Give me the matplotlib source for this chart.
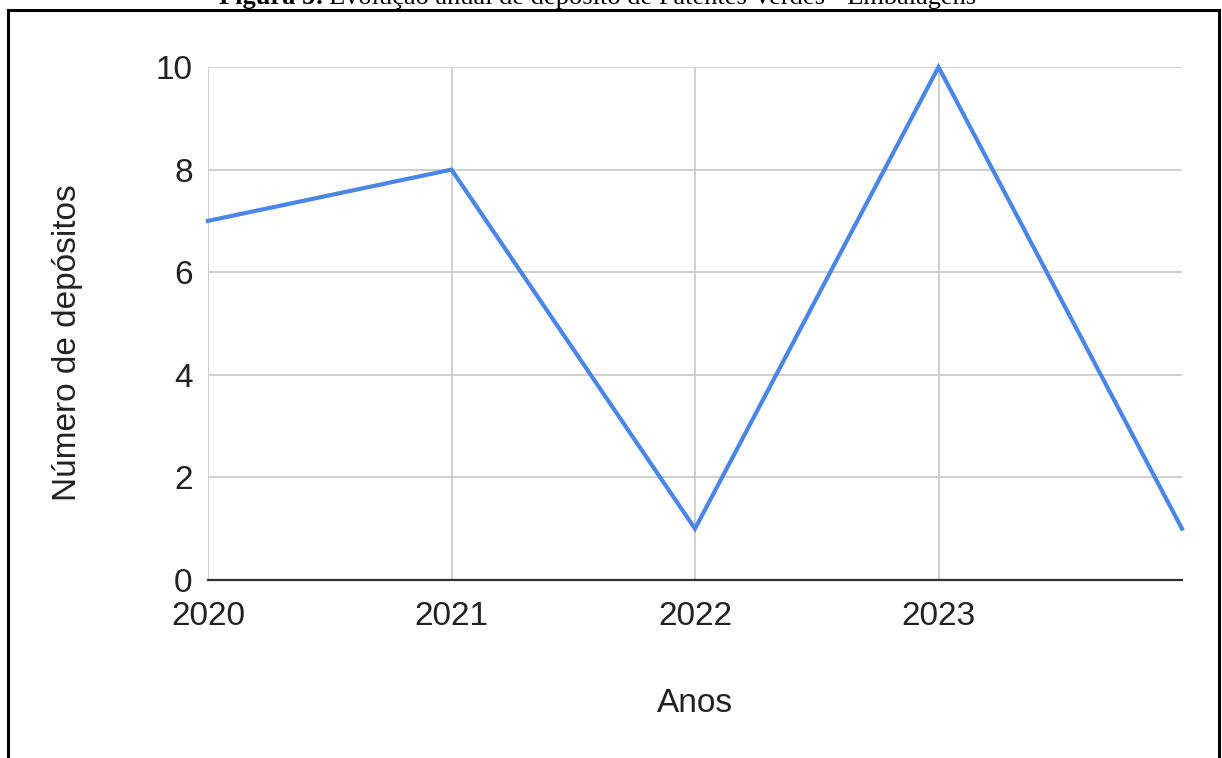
import matplotlib
matplotlib.use("Agg")
import matplotlib.pyplot as plt

# Annual green-patent filings for packaging
anos = [2020, 2021, 2022, 2023, 2024]
depositos = [7, 8, 1, 10, 1]
xticks = [2020, 2021, 2022, 2023]
yticks = [0, 2, 4, 6, 8, 10]

W, H = 1222, 758
fig = plt.figure(figsize=(W / 100, H / 100), dpi=100)
fig.patch.set_facecolor("white")

# outer frame around the chart (open at the bottom)
frame = dict(color="black", lw=2.2, transform=fig.transFigure)
fig.add_artist(plt.Line2D([8 / W, 8 / W], [0, 1 - 10 / H], **frame))
fig.add_artist(plt.Line2D([1219 / W, 1219 / W], [0, 1 - 10 / H], **frame))
fig.add_artist(plt.Line2D([8 / W, 1219 / W], [1 - 10 / H, 1 - 10 / H], **frame))

# caption: bold label followed by regular text
cap_y = 1 - 4 / H
t1 = fig.text(219 / W, cap_y, "Figura 5:", ha="left", va="baseline", fontsize=19,
              family="Liberation Serif", weight="bold")
fig.canvas.draw()
bb = t1.get_window_extent(renderer=fig.canvas.get_renderer())
fig.text((bb.x1 + 5) / W, cap_y, "Evolução anual de depósito de Patentes Verdes - Embalagens",
         ha="left", va="baseline", fontsize=19, family="Liberation Serif")

left, right, top, bottom = 208, 1182, 67, 580
ax = fig.add_axes([left / W, 1 - bottom / H, (right - left) / W, (bottom - top) / H])
ax.plot(anos, depositos, color="#4a86e8", lw=3, solid_joinstyle="miter", clip_on=False, zorder=3)

ax.set_xlim(2020, 2024)
ax.set_ylim(0, 10)
ax.set_xticks(xticks)
ax.set_xticklabels([str(t) for t in xticks])
ax.set_yticks(yticks)
ax.grid(True, color="#cccccc", lw=1.3)
ax.set_axisbelow(True)
for s in ["top", "right", "left"]:
    ax.spines[s].set_visible(False)
ax.spines["bottom"].set_color("#333333")
ax.spines["bottom"].set_linewidth(1.6)
ax.spines["bottom"].set_zorder(4)
ax.tick_params(length=0, labelsize=24, colors="#222222")
for lab in ax.get_xticklabels() + ax.get_yticklabels():
    lab.set_family("Liberation Sans")
ax.tick_params(axis="y", pad=11)
ax.tick_params(axis="x", pad=15)

ax.set_xlabel("Anos", fontsize=24, family="Liberation Sans", color="#222222")
ax.set_ylabel("Número de depósitos", fontsize=24, family="Liberation Sans", color="#222222")
ax.xaxis.label.set_verticalalignment("center")
ax.yaxis.label.set_verticalalignment("center")
ax.xaxis.set_label_coords(0.5, (bottom - 703) / (bottom - top))
ax.yaxis.set_label_coords((68 - left) / (right - left), (bottom - 343) / (bottom - top))

fig.savefig("out.png", dpi=100)
